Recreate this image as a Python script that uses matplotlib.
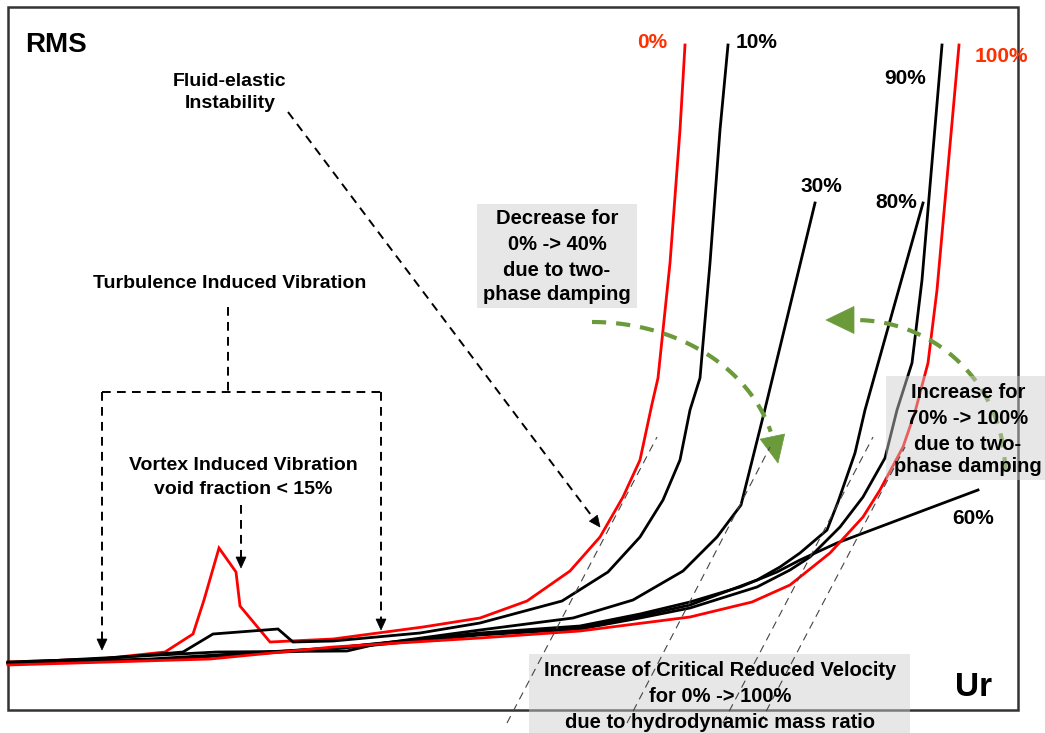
import numpy as np
import matplotlib
matplotlib.use("Agg")
import matplotlib.pyplot as plt
from matplotlib.patches import Rectangle, Polygon

# ---------------- data (schematic: Ur along x, RMS with screen-style y) -------------
ur_0 = [8, 100, 165, 193, 204, 219, 236, 240, 270, 333, 423, 480, 527, 570, 600, 623, 640, 652, 658, 670, 680, 685]
rms_0 = [662, 659, 652, 634, 600, 548, 572, 606, 642, 639, 627, 618, 601, 571, 537, 497, 460, 404, 378, 263, 130, 45]

ur_10 = [8, 100, 183, 213, 278, 293, 333, 420, 480, 562, 608, 640, 663, 680, 690, 700, 710, 720, 728]
rms_10 = [662, 659, 652, 634, 629, 642, 641, 633, 623, 601, 572, 537, 500, 460, 410, 378, 263, 130, 45]

ur_30 = [8, 217, 347, 377, 480, 573, 633, 683, 717, 741, 765, 815]
rms_30 = [663, 652, 651, 644, 630, 618, 600, 571, 537, 505, 409, 203]

ur_60 = [8, 150, 333, 480, 580, 640, 690, 740, 777, 800, 837, 930, 978]
rms_60 = [663, 659, 648, 633, 626, 614, 602, 587, 572, 560, 543, 508, 490]

ur_80 = [8, 150, 333, 480, 580, 640, 690, 757, 780, 800, 827, 838, 855, 865, 923]
rms_80 = [663, 660, 648, 634, 628, 616, 605, 580, 567, 553, 530, 502, 453, 410, 203]

ur_90 = [8, 150, 333, 480, 580, 640, 690, 757, 790, 810, 840, 863, 885, 897, 912, 922, 942]
rms_90 = [663, 660, 649, 635, 629, 618, 608, 587, 570, 557, 527, 497, 458, 410, 363, 280, 45]

ur_100 = [8, 210, 333, 480, 580, 690, 752, 790, 830, 863, 880, 903, 915, 928, 937, 959]
rms_100 = [665, 659, 647, 638, 631, 617, 602, 585, 553, 517, 490, 447, 412, 363, 290, 45]

labels = ["0%", "10%", "30%", "60%", "80%", "90%", "100%"]
label_x = [652, 757, 821, 973, 896, 905, 1001]
label_y = [42, 42, 187, 518, 202, 78, 57]

# critical reduced velocity guide lines (start / end)
crit_x0 = [507, 627, 723, 760]
crit_y0 = [723, 723, 723, 723]
crit_x1 = [657, 770, 873, 905]
crit_y1 = [437, 447, 437, 447]

# ---------------- figure -------------------------------------------------------------
W, H = 1045, 733
fig = plt.figure(figsize=(W / 100, H / 100), dpi=100)
ax = fig.add_axes([0, 0, 1, 1])
ax.set_xlim(0, W)
ax.set_ylim(H, 0)
ax.axis("off")

FONT = ["Liberation Sans", "DejaVu Sans"]
RED = "#ff0000"
LABRED = "#ff3000"
GREEN = "#6b9a3b"

# frame
ax.add_patch(Rectangle((8, 7), 1010, 703, fill=False, edgecolor="#333333", lw=1.8, zorder=1))

# curves
curve_lw = 2.0
series = [(ur_0, rms_0, RED), (ur_10, rms_10, "black"), (ur_30, rms_30, "black"),
          (ur_60, rms_60, "black"), (ur_80, rms_80, "black"), (ur_90, rms_90, "black"),
          (ur_100, rms_100, RED)]
for x, y, c in series:
    ax.plot(x, y, color=c, lw=curve_lw, solid_joinstyle="miter", zorder=2)

# percent labels
for t, lx, ly in zip(labels, label_x, label_y):
    col = LABRED if t in ("0%", "100%") else "black"
    ax.text(lx, ly, t, ha="center", va="center", fontsize=15, fontweight="bold",
            family=FONT, color=col, zorder=6)

# critical-velocity dashed guide lines
for x0, y0, x1, y1 in zip(crit_x0, crit_y0, crit_x1, crit_y1):
    ax.plot([x0, x1], [y0, y1], color="#444444", lw=0.8, ls=(0, (7, 5)), zorder=5)


def head(tip, frm, length=11, width=10, color="black", z=6):
    tip = np.array(tip, float)
    frm = np.array(frm, float)
    d = tip - frm
    d /= np.hypot(*d)
    n = np.array([-d[1], d[0]])
    base = tip - d * length
    pts = [tip, base + n * width / 2, base - n * width / 2]
    ax.add_patch(Polygon(pts, closed=True, facecolor=color, edgecolor=color, lw=0.5, zorder=z))
    return base


bdash = (0, (4.5, 3.2))
blw = 1.4

# Fluid-elastic arrow
fe_start, fe_tip = (288, 112), (600, 527)
b = head(fe_tip, fe_start)
ax.plot([fe_start[0], b[0]], [fe_start[1], b[1]], color="black", lw=blw, ls=bdash, zorder=5)

# Turbulence induced vibration bracket
ax.plot([228, 228], [307, 392], color="black", lw=blw, ls=bdash, zorder=5)
ax.plot([102, 381], [392, 392], color="black", lw=blw, ls=bdash, zorder=5)
b = head((102, 650), (102, 392))
ax.plot([102, 102], [392, b[1]], color="black", lw=blw, ls=bdash, zorder=5)
b = head((381, 630), (381, 392))
ax.plot([381, 381], [392, b[1]], color="black", lw=blw, ls=bdash, zorder=5)
# VIV arrow
b = head((241, 568), (241, 505))
ax.plot([241, 241], [505, b[1]], color="black", lw=blw, ls=bdash, zorder=5)

# green arcs
glw = 3.0
gdash = (0, (3.4, 2.4))
t1 = np.radians(np.linspace(90, 15, 60))
cx1, cy1, rx1, ry1 = 592, 470, 185, 148
ax1 = cx1 + rx1 * np.cos(t1)
ay1 = cy1 - ry1 * np.sin(t1)
ax.plot(ax1, ay1, color=GREEN, lw=glw, ls=gdash, zorder=2.5, dash_capstyle="butt")
head((778, 463), (ax1[-1] - 1, ay1[-1] - 8), length=27, width=25, color=GREEN, z=2.6)

t2 = np.radians(np.linspace(88, -2, 60))
cx2, cy2, rx2, ry2 = 855, 470, 150, 150
ax2 = cx2 + rx2 * np.cos(t2)
ay2 = cy2 - ry2 * np.sin(t2)
ax.plot(ax2, ay2, color=GREEN, lw=glw, ls=gdash, zorder=2.5, dash_capstyle="butt")
head((826, 320), (860, 320), length=28, width=27, color=GREEN, z=2.6)

# grey boxes
BOXC = "#cccccc"
BOXA = 0.47
ax.add_patch(Rectangle((477, 204), 160, 104, facecolor=BOXC, alpha=BOXA, lw=0, zorder=3))
ax.add_patch(Rectangle((886, 376), 165, 104, facecolor=BOXC, alpha=BOXA, lw=0, zorder=3))
ax.add_patch(Rectangle((529, 654), 381, 85, facecolor=BOXC, alpha=BOXA, lw=0, zorder=3))

# texts
def txt(x, y, s, size=14, **kw):
    ax.text(x, y, s, ha=kw.pop("ha", "center"), va="center", fontsize=size,
            fontweight="bold", family=FONT, zorder=6, **kw)

txt(25, 45, "RMS", size=20, ha="left")
txt(974, 688, "Ur", size=24)
txt(230, 82, "Fluid-elastic")
txt(230, 103, "Instability")
txt(230, 284, "Turbulence Induced Vibration")
txt(243, 466, "Vortex Induced Vibration")
txt(243, 490, "void fraction < 15%")

for s, y in zip(["Decrease for", "0% -> 40%", "due to two-", "phase damping"], [219, 245, 270, 295]):
    txt(557, y, s, size=14.5)
for s, y in zip(["Increase for", "70% -> 100%", "due to two-", "phase damping"], [393, 419, 444, 467]):
    txt(968, y, s, size=14.5)
for s, y in zip(["Increase of Critical Reduced Velocity", "for 0% -> 100%",
                 "due to hydrodynamic mass ratio"], [671, 697, 722]):
    txt(720, y, s, size=14.5)

fig.savefig("out.png", dpi=100)
